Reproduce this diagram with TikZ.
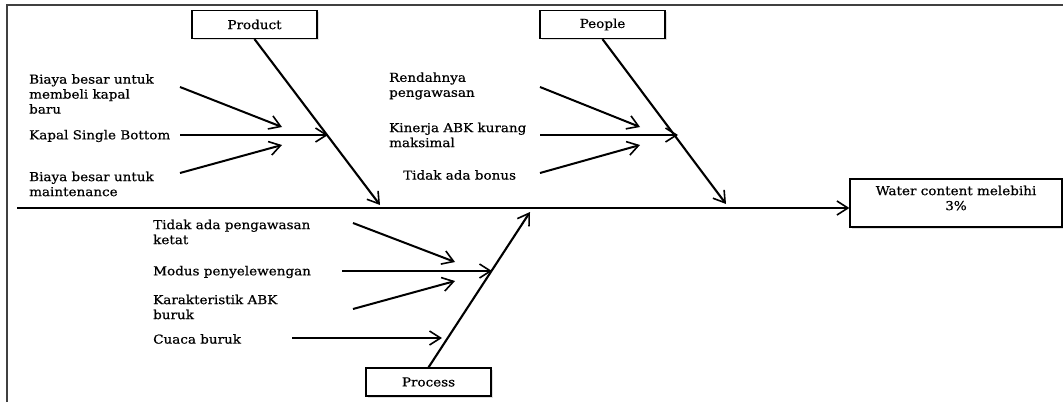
\documentclass[tikz,border=0pt]{standalone}
\usepackage{fontspec}
\setmainfont[FakeStretch=1.1,FakeBold=0.6]{DejaVu Serif}
\usetikzlibrary{arrows.meta,shadows}
\begin{document}
\begin{tikzpicture}[x=1pt,y=-1pt,
  every node/.style={font=\fontsize{12.3}{15}\selectfont, inner sep=0pt},
  boxshadow/.style={drop shadow={opacity=0.25, shadow xshift=1.5pt, shadow yshift=-1.5pt}},
  cat/.style={draw, line width=1.2pt, fill=white, minimum width=125pt, minimum height=28pt, boxshadow},
  barb/.style={-{Straight Barb[length=11pt,width=14pt,line width=1.6pt]}},
  bone/.style={barb, line width=2.1pt},
  rib/.style={barb, line width=2pt},
  lbl/.style={anchor=west, align=left}]
\useasboundingbox (0,0) rectangle (1063,402);

% frame
\draw[line width=1.8pt, black!75] (7,402) -- (7,5) -- (1063,5);

% category boxes
\node[cat] (product) at (254.5,24.5) {Product};
\node[cat] (people)  at (602.5,24.5) {People};
\node[cat] (process) at (428.5,382) {Process};
\node[draw, line width=1.2pt, fill=white, minimum width=212pt, minimum height=48pt, boxshadow]
  (effect) at (956,203) {};
\node[align=center] (effecttext) at (956,198) {Water content melebihi\\3\%};

% spine
\coordinate (tail) at (17,208);
\draw[bone] (tail) -- (tail -| effect.west);

% main bones
\coordinate (prodend) at (380,205);
\coordinate (peopend) at (726,204);
\coordinate (procend) at (530,212);
\draw[bone] (product.south) -- (prodend);
\draw[bone] (people.south) -- (peopend);
\draw[bone] (process.north) -- (procend);

% Product causes
\node[lbl] (p1) at (29,94) {Biaya besar untuk\\membeli kapal\\baru};
\node[lbl] (p2) at (29,136) {Kapal Single Bottom};
\node[lbl] (p3) at (29,184) {Biaya besar untuk\\maintenance};
\coordinate (p1s) at (180,87);  \coordinate (p1e) at (282,127);
\coordinate (p2s) at (180,135); \coordinate (p2e) at (328,135);
\coordinate (p3s) at (180,173); \coordinate (p3e) at (282,145);
\draw[rib] (p1s) -- (p1e);
\draw[rib] (p2s) -- (p2e);
\draw[rib] (p3s) -- (p3e);

% People causes
\node[lbl] (q1) at (389,86) {Rendahnya\\pengawasan};
\node[lbl] (q2) at (389,135) {Kinerja ABK kurang\\maksimal};
\node[lbl] (q3) at (403,175) {Tidak ada bonus};
\coordinate (q1s) at (540,87);  \coordinate (q1e) at (640,127);
\coordinate (q2s) at (540,135); \coordinate (q2e) at (678,135);
\coordinate (q3s) at (540,173); \coordinate (q3e) at (640,145);
\draw[rib] (q1s) -- (q1e);
\draw[rib] (q2s) -- (q2e);
\draw[rib] (q3s) -- (q3e);

% Process causes
\node[lbl] (r1) at (153,232) {Tidak ada pengawasan\\ketat};
\node[lbl] (r2) at (153,272) {Modus penyelewengan};
\node[lbl] (r3) at (153,307) {Karakteristik ABK\\buruk};
\node[lbl] (r4) at (153,339) {Cuaca buruk};
\coordinate (r1s) at (353,223); \coordinate (r1e) at (455,262);
\coordinate (r2s) at (342,271); \coordinate (r2e) at (492,271);
\coordinate (r3s) at (353,309); \coordinate (r3e) at (455,281);
\coordinate (r4s) at (292,338); \coordinate (r4e) at (442,338);
\draw[rib] (r1s) -- (r1e);
\draw[rib] (r2s) -- (r2e);
\draw[rib] (r3s) -- (r3e);
\draw[rib] (r4s) -- (r4e);
\end{tikzpicture}
\end{document}
